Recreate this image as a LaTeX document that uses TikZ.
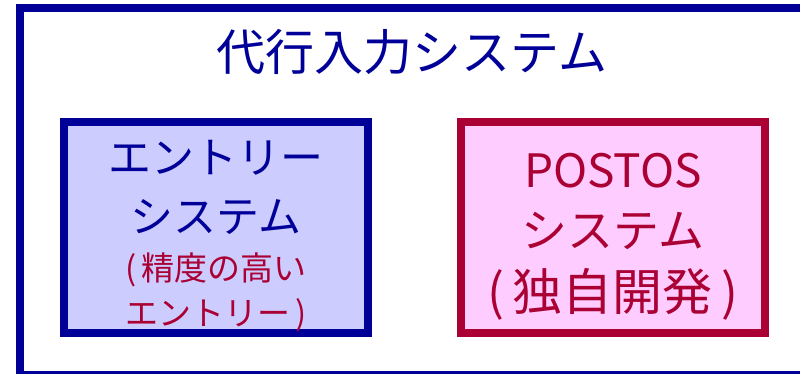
\documentclass[tikz,border=0pt]{standalone}
\usepackage{fontspec}
\setmainfont{Noto Sans CJK JP}
\usepackage{tikz}
\usetikzlibrary{positioning}
\definecolor{sysblue}{HTML}{000099}
\definecolor{sysred}{HTML}{AA0033}
\definecolor{lightblue}{HTML}{CCCCFF}
\definecolor{lightpink}{HTML}{FFCCFF}

\begin{document}
\begin{tikzpicture}[x=1pt, y=-1pt, frame/.style={draw=sysblue,line width=8pt}, block/.style={rectangle,draw,line width=8pt,minimum width=304pt,minimum height=211pt,inner sep=0pt,align=center}, entrybox/.style={block,draw=sysblue,fill=lightblue,text=sysblue,font=\fontsize{43}{59}\selectfont}, postosbox/.style={block,draw=sysred,fill=lightpink,text=sysred,font=\fontsize{46}{60}\selectfont}]
\clip (0,0) rectangle (800,373);
\draw[frame] (20,8) rectangle (812,375);
\node[text=sysblue,font=\fontsize{49}{60}\selectfont] (title) at (412,52) {代行入力システム};
\node[entrybox] (entry) at (216,227.5) {\rule{0pt}{50pt}エントリー\\システム\\[-11pt]{\color{sysred}\fontsize{33}{40}\selectfont (\,精度の高い}\\[-14pt]{\color{sysred}\fontsize{33}{40}\selectfont エントリー\,)}};
\node[postosbox,right=85pt of entry] (postos) {\rule{0pt}{52pt}POSTOS\\システム\\[3pt]{\fontsize{50}{60}\selectfont (\,独自開発\,)}};
\end{tikzpicture}
\end{document}
